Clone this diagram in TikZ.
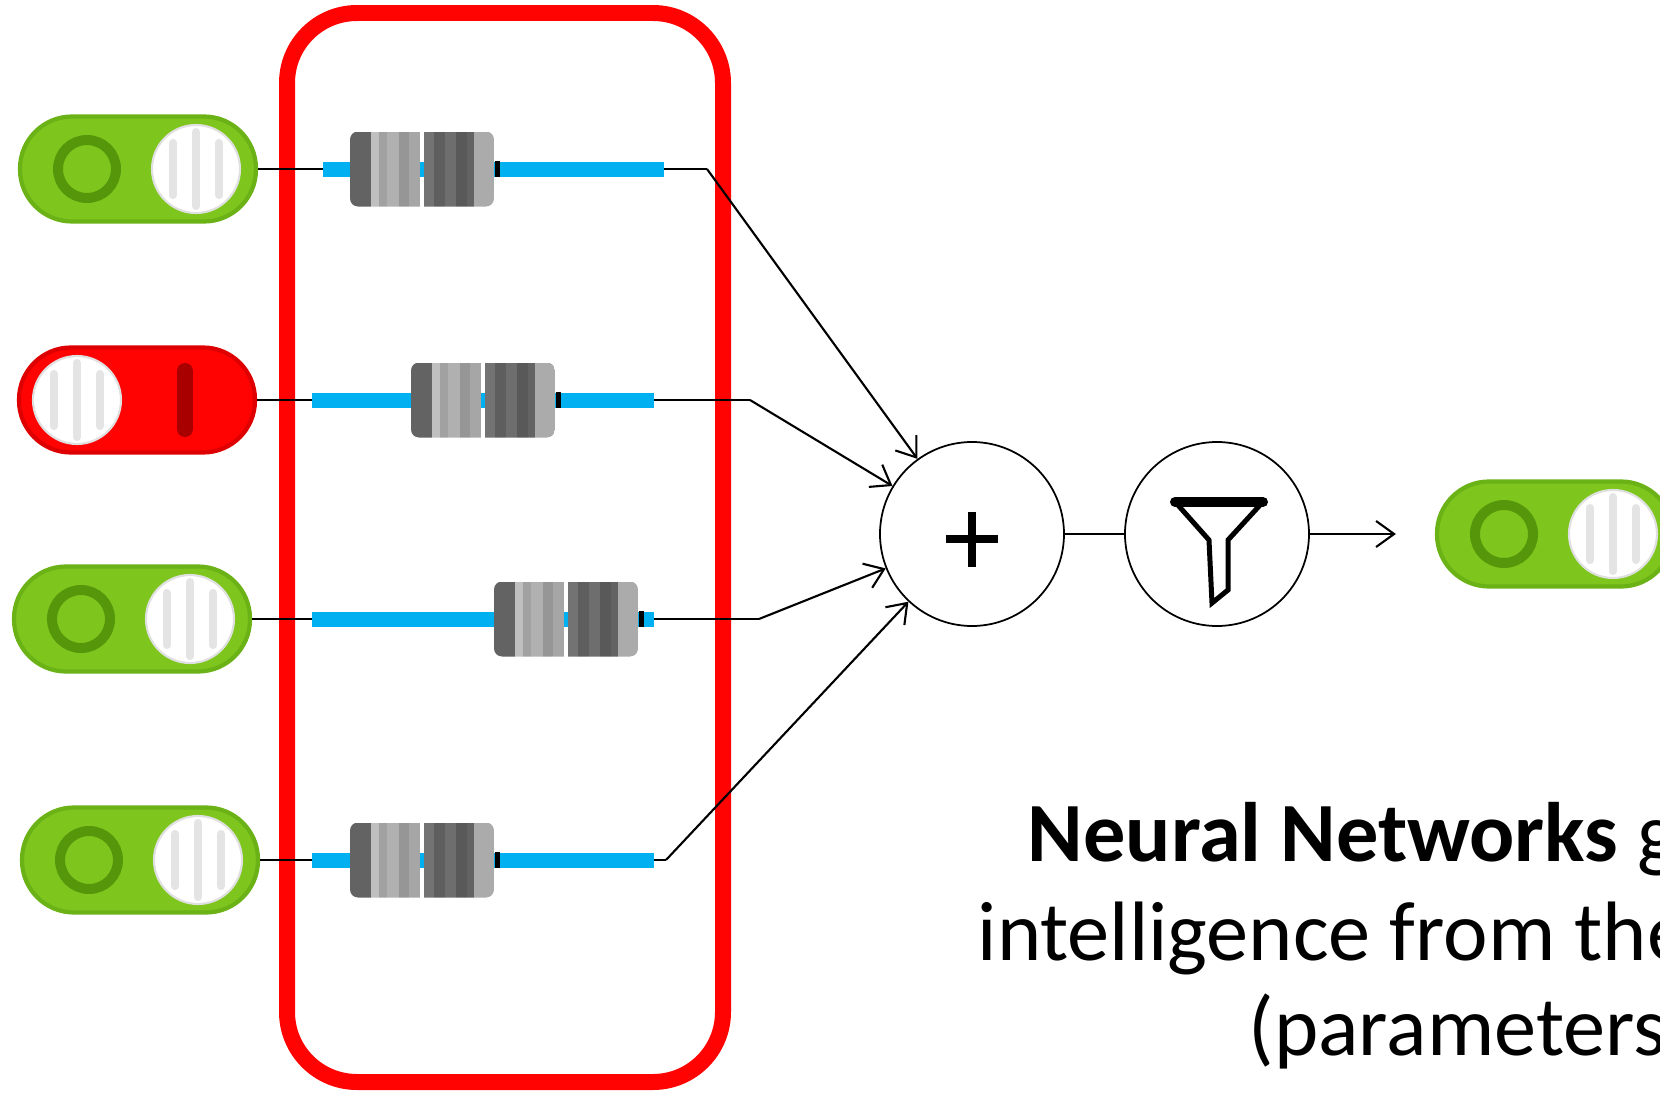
\documentclass[tikz,border=0pt]{standalone}
\usepackage{fontspec}
\setmainfont{Carlito}
\usetikzlibrary{arrows.meta,calc}

\definecolor{onGreen}{RGB}{126,198,30}
\definecolor{onEdge}{RGB}{106,178,22}
\definecolor{ringGreen}{RGB}{86,150,10}
\definecolor{offRed}{RGB}{255,2,2}
\definecolor{offEdge}{RGB}{222,0,0}
\definecolor{barRed}{RGB}{168,0,0}
\definecolor{wireBlue}{RGB}{0,176,240}
\definecolor{knobGrey}{RGB}{228,228,228}

\tikzset{
  toggle/.style={draw=onEdge, line width=1.2pt, fill=onGreen, rounded corners=5.2mm,
    minimum width=23.6mm, minimum height=10.5mm, inner sep=0pt},
  offtoggle/.style={toggle, draw=offEdge, fill=offRed},
  knob/.style={fill=white, draw=black!12, line width=0.6pt},
  groove/.style={knobGrey, line width=2.3pt, line cap=round},
  % grey bands of a weight, as fractions of its width
  weight/.style={minimum width=14.4mm, minimum height=7.5mm, inner sep=0pt, rounded corners=0.8mm,
    path picture={
      \foreach \a/\b/\g in {0/0.144/61, 0.144/0.198/25, 0.198/0.256/37, 0.256/0.337/31,
          0.337/0.407/41, 0.407/0.484/35, 0.512/0.581/55, 0.581/0.663/63,
          0.663/0.733/57, 0.733/0.814/65, 0.814/0.860/61, 0.860/1/33}
        \fill[black!\g, sharp corners]
          ($(path picture bounding box.south west)!\a!(path picture bounding box.south east)$)
          rectangle ($(path picture bounding box.north west)!\b!(path picture bounding box.north east)$);
    }},
  unit/.style={circle, draw, line width=0.5pt, minimum size=18.4mm, inner sep=0pt},
  wire/.style={line width=0.6pt},
  arr/.style={wire, -{Straight Barb[length=1.8mm,width=2.6mm]}},
  txt/.style={font=\fontsize{24}{27}\selectfont, anchor=base west, inner sep=0pt}
}

\begin{document}
\begin{tikzpicture}[x=0.1mm, y=-0.1mm]
  \useasboundingbox (0,0) rectangle (1660,1093);

  % Frame around the weights
  \draw[offRed, line width=1.6mm, rounded corners=7mm] (287,13) rectangle (723,1082);

  % Input switches
  \node[toggle] (in1) at (138,169) {};
  \node[offtoggle] (in2) at (137,400) {};
  \node[toggle] (in3) at (132,619) {};
  \node[toggle] (in4) at (140,860) {};

  % Neuron: sum, then activation, then output switch
  \node[unit] (sum) at (972,534) {};
  \node[unit] (act) at (1217,534) {};
  \node[toggle] (out) at (1555,534) {};

  % Switch faces
  \foreach \n in {in1,in3,in4,out} {
    \draw[ringGreen, line width=1mm] ([xshift=-5.1mm]\n.center) circle (2.9mm);
    \draw[knob] ([xshift=5.8mm]\n.center) circle (4.4mm);
    \foreach \dx/\h in {3.5/2.6, 5.8/3.7, 8.1/2.6}
      \draw[groove] ([xshift=\dx mm, yshift=\h mm]\n.center) -- ([xshift=\dx mm, yshift=-\h mm]\n.center);
  }
  \draw[knob] ([xshift=-6mm]in2.center) circle (4.4mm);
  \foreach \dx/\h in {-8.3/2.6, -6/3.7, -3.7/2.6}
    \draw[groove] ([xshift=\dx mm, yshift=\h mm]in2.center) -- ([xshift=\dx mm, yshift=-\h mm]in2.center);
  \draw[barRed, line width=1.6mm, line cap=round] ([xshift=4.8mm, yshift=2.9mm]in2.center) -- ([xshift=4.8mm, yshift=-2.9mm]in2.center);

  % Weights on each input line
  \foreach \i/\y/\xa/\xb/\xw/\xc in {1/169/323/664/422/707, 2/400/312/654/483/750,
      3/619/312/654/566/759, 4/860/312/654/422/666} {
    \coordinate (a\i) at (\xa,\y);
    \coordinate (b\i) at (\xb,\y);
    \coordinate (c\i) at (\xc,\y);
    \draw[wire] (in\i) -- (a\i);
    \draw[wireBlue, line width=1.5mm] (a\i) -- (b\i);
    \node[weight] (w\i) at (\xw,\y) {};
    \fill ([yshift=-0.8mm]w\i.east) rectangle ([xshift=0.5mm, yshift=0.8mm]w\i.east);
    \draw[wire] (b\i) -- (c\i);
    \draw[arr] (c\i) -- (sum);
  }

  \draw[wire] (sum) -- (act);
  \draw[arr, shorten >=3.9mm] (act) -- (out);

  % Plus sign
  \draw[line width=0.8mm] ([yshift=-0.5mm]sum.center) +(-2.6mm,0) -- +(2.6mm,0) +(0,-2.75mm) -- +(0,2.75mm);

  % Funnel
  \begin{scope}[shift={(act.center)}]
    \draw[line width=1mm, line cap=round] (-42,-32) -- (46,-32);
    \draw[line width=0.5mm] (-40,-30) -- (-8,6) -- (-5,69) -- (11,56) -- (11,6) -- (44,-30);
  \end{scope}

  % Caption
  \node[txt] (t1) at (1027,861) {\textbf{Neural Networks} g};
  \node[txt] (t2) at (977,960) {intelligence from the};
  \node[txt] (t3) at (1248,1055) {(parameters};
\end{tikzpicture}
\end{document}
